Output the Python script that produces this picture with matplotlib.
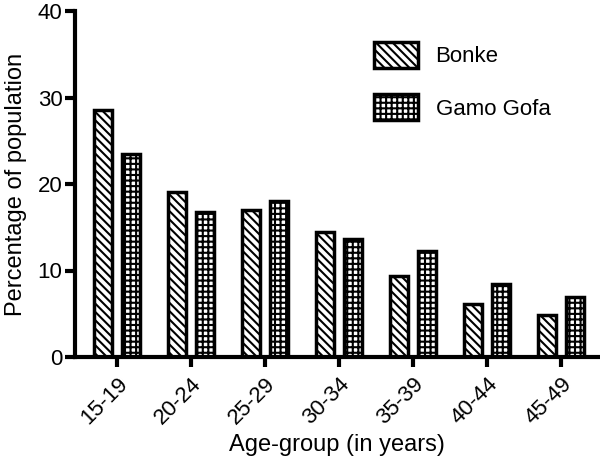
import matplotlib
matplotlib.use("Agg")
import matplotlib.pyplot as plt
import numpy as np

categories = ["15-19", "20-24", "25-29", "30-34", "35-39", "40-44", "45-49"]
bonke = [28.6, 19.1, 17.0, 14.5, 9.4, 6.1, 4.85]
gamo_gofa = [23.5, 16.8, 18.0, 13.6, 12.3, 8.4, 6.9]
series_names = ["Bonke", "Gamo Gofa"]
y_ticks = [0, 10, 20, 30, 40]

plt.rcParams['font.family'] = ['Liberation Sans', 'DejaVu Sans']
plt.rcParams['hatch.linewidth'] = 1.5

fig = plt.figure(figsize=(6.0, 4.58), dpi=100)
ax = fig.add_axes([75/600, 1-357/458, 524/600, 346/458])

x = np.arange(len(categories))
w = 0.25
off = 0.19
ax.bar(x - off, bonke, w, facecolor='white', edgecolor='black', linewidth=2.5,
       hatch='\\\\\\\\', label=series_names[0], zorder=2)
ax.bar(x + off, gamo_gofa, w, facecolor='white', edgecolor='black', linewidth=2.5,
       hatch='+++', label=series_names[1], zorder=2)

ax.set_xlim((75-117)/74, (599-117)/74)
ax.set_ylim(0, 40)
ax.set_yticks(y_ticks)
ax.set_xticks(x)
ax.set_xticklabels(categories, rotation=45, ha='right', va='top', rotation_mode='anchor')

for s in ['top', 'right']:
    ax.spines[s].set_visible(False)
for s in ['left', 'bottom']:
    ax.spines[s].set_linewidth(3)
ax.tick_params(axis='both', direction='out', length=7, width=3, labelsize=16, pad=2)
ax.tick_params(axis='x', pad=5)

ax.set_ylabel("Percentage of population", fontsize=17)
ax.yaxis.set_label_coords(-0.092, 0.5)
ax.set_xlabel("Age-group (in years)", fontsize=17)

leg = ax.legend(loc='upper left', bbox_to_anchor=(374/600, 1-42/458),
                bbox_transform=fig.transFigure, frameon=False, fontsize=16,
                handlelength=2.0, handleheight=1.4, handletextpad=0.77,
                labelspacing=1.2, borderpad=0, borderaxespad=0)

fig.savefig("out.png", dpi=100)
